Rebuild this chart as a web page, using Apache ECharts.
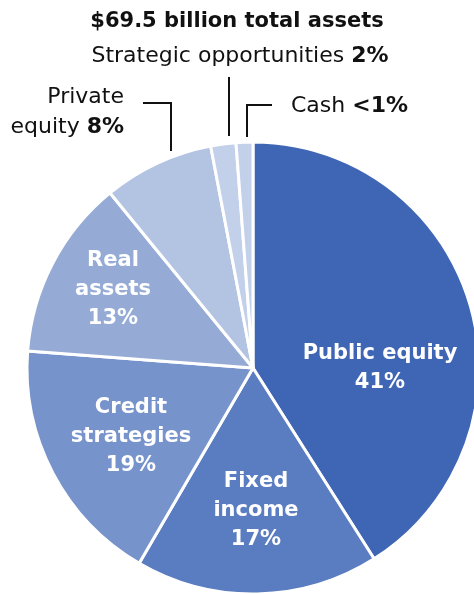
<!DOCTYPE html>
<html><head><meta charset="utf-8">
<script src="https://cdn.jsdelivr.net/npm/echarts@6/dist/echarts.min.js"></script>
<style>html,body{margin:0;padding:0;background:#fff}#c{width:474px;height:594px}</style>
</head><body><div id="c"></div>
<script>
const titleText = '$69.5 billion total assets';
const categories = ['Public equity', 'Fixed income', 'Credit strategies', 'Real assets', 'Private equity', 'Strategic opportunities', 'Cash'];
const values = [41, 17.4, 17.8, 12.9, 7.9, 1.8, 1.2];
const pctLabels = ['41%', '17%', '19%', '13%', '8%', '2%', '<1%'];
const colors = ['#3F66B5', '#5A7CC1', '#7793CB', '#95ABD6', '#B3C4E3', '#C3D0EA', '#C3D0EA'];

const labelText = [
  'Public equity\n' + pctLabels[0],
  'Fixed\nincome\n' + pctLabels[1],
  'Credit\nstrategies\n' + pctLabels[2],
  'Real\nassets\n' + pctLabels[3],
  '{r|Private}\n{r|equity }{rb|' + pctLabels[4] + '}',
  '{r|Strategic opportunities }{rb|' + pctLabels[5] + '}',
  '{r|Cash }{rb|' + pctLabels[6] + '}'
];
const FONT = '"DejaVu Sans"';
const layout = [
  {x: 380, y: 368, align: 'center'},
  {x: 256, y: 511, align: 'center'},
  {x: 131, y: 437, align: 'center'},
  {x: 113, y: 290, align: 'center'},
  {x: 124, y: 112, align: 'right', line: [[171, 151], [171, 103], [143, 103]]},
  {x: 240, y: 56, align: 'center', line: [[229, 136], [229, 77]]},
  {x: 291, y: 106, align: 'left', line: [[247, 137], [247, 105], [272, 105]]}
];

const chart = echarts.init(document.getElementById('c'), null, {renderer: 'canvas'});
const data = categories.map((n, i) => {
  const inside = i < 4;
  return {
    name: n, value: values[i],
    itemStyle: {color: colors[i]},
    label: inside ? {
      show: true, position: 'inside', formatter: labelText[i],
      color: '#fff', fontFamily: FONT, fontWeight: 'bold', fontSize: 21, lineHeight: 29, align: 'center'
    } : {
      show: true, position: 'outside', formatter: labelText[i],
      color: '#111', fontFamily: FONT, fontSize: 22, lineHeight: 30,
      rich: {
        r: {fontFamily: FONT, fontSize: 22, color: '#111', lineHeight: 30},
        rb: {fontFamily: FONT, fontSize: 22, color: '#111', fontWeight: 'bold', lineHeight: 30}
      }
    },
    labelLine: {show: !inside, lineStyle: {color: '#111', width: 2}}
  };
});

chart.setOption({
  animation: false,
  title: {
    text: titleText, left: 'center', top: 6,
    textStyle: {fontFamily: FONT, fontWeight: 'bold', fontSize: 21, color: '#111'}
  },
  series: [{
    type: 'pie',
    center: [253, 368],
    radius: 226,
    startAngle: 90,
    clockwise: true,
    avoidLabelOverlap: false,
    itemStyle: {borderColor: '#fff', borderWidth: 3},
    emphasis: {disabled: true},
    labelLayout: function (p) {
      const L = layout[p.dataIndex];
      const o = {x: L.x, y: L.y, align: L.align, verticalAlign: 'middle'};
      if (L.line) o.labelLinePoints = L.line;
      return o;
    },
    data: data
  }]
});
</script></body></html>
